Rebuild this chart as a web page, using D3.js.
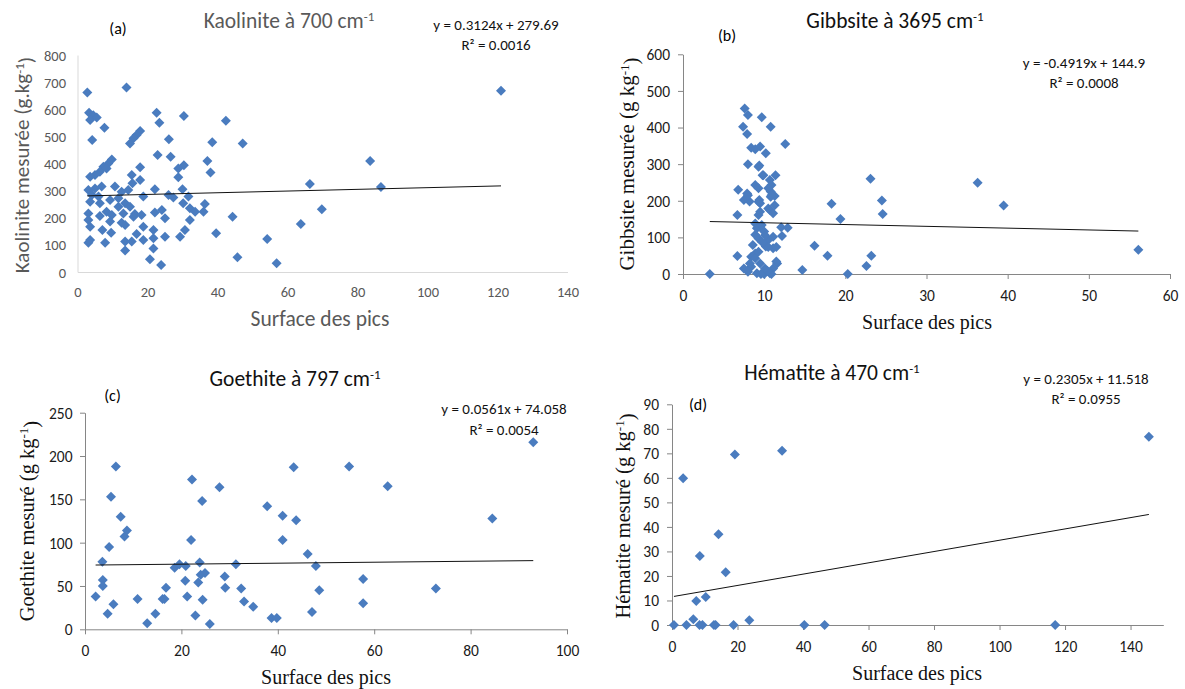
<!DOCTYPE html>
<html><head><meta charset="utf-8">
<script src="https://cdn.jsdelivr.net/npm/d3@7"></script>
<style>body{margin:0;background:#fff}svg{display:block}</style>
</head><body>
<svg id="c" width="1185" height="689"></svg>
<script>
// ---------- DATA ----------
// (a) Kaolinite
const kaolX = [2.8,14.0,3.3,4.5,3.6,5.5,7.7,4.2,22.6,23.4,17.9,16.9,16.0,15.0,26.1,22.9,26.6,9.8,8.8,7.4,6.4,5.0,3.6,8.3,17.9,15.5,17.9,15.7,3.1,5.0,6.9,4.1,6.0,10.7,12.6,14.5,18.8,22.1,3.6,6.4,9.3,11.7,13.6,8.3,11.7,15.0,3.1,6.4,9.8,13.1,16.4,18.3,22.1,24.1,3.1,3.6,9.3,12.6,16.0,25.0,7.1,9.6,13.6,18.8,21.7,3.6,3.1,7.9,13.6,15.5,16.9,18.8,21.7,25.0,13.6,21.7,20.7,23.9,26.0,
  30.4,42.4,38.5,47.2,30.4,28.8,37.1,38.0,28.8,30.0,27.4,31.7,30.2,32.1,33.6,36.0,36.4,32.1,44.3,30.7,29.3,39.6,54.2,45.7,
  121,83.6,66.4,86.7,69.8,63.8,56.9];
const kaolY = [662,680,587,578,560,570,532,487,587,550,520,505,493,474,489,431,425,415,400,388,370,358,351,382,386,358,339,327,302,308,315,284,278,315,296,302,278,305,259,253,265,272,253,222,241,241,216,206,210,216,214,210,219,229,192,167,186,182,204,198,155,145,173,167,155,118,108,108,112,112,140,118,124,130,79,87,47,26,284,
  575,558,478,474,394,382,409,367,349,305,275,278,253,235,222,222,251,192,204,155,130,143,122,54,
  668,409,324,313,231,177,32];
// (b) Gibbsite
const gibbX = [3.3,7.6,8.0,7.4,7.9,9.7,10.8,12.6,8.4,9.5,8.9,10.2,8.0,9.4,6.8,7.9,7.5,8.2,8.9,9.3,9.4,9.5,9.8,10.7,11.4,10.9,10.8,11.3,10.8,6.7,9.3,9.5,10.7,11.1,11.3,8.9,9.5,10.0,8.9,9.3,10.5,10.2,11.1,12.1,12.9,12.2,8.6,6.7,8.4,8.9,7.5,8.4,9.5,9.1,10.0,10.7,11.1,11.6,10.9,14.7,16.2,17.8,18.3,19.4,20.3,22.6,23.2,23.1,24.5,24.6,36.3,39.5,56.1,
  8.25,8.9,8.0,9.6,9.9,10.4,11.5,10.1,9.3,10.5,9.7,10.1,9.1,9.7,11.1,11.5,8.0,9.3,9.9,10.5,10.9,10.5,9.3];
const gibbY = [0,452,434,402,382,428,402,355,345,348,341,330,300,296,230,220,202,198,243,234,202,193,270,257,270,243,211,213,225,161,161,170,175,166,188,138,129,116,107,97,93,75,70,128,126,104,79,49,47,56,15,20,29,2,0,2,15,29,0,11,77,50,192,150,0,22,50,260,201,164,249,187,66,
  29,43,6,0,4,8,34,15,61,74,88,106,125,134,102,74,215,197,270,234,215,179,293];
// (c) Goethite
const goetX = [2.2,3.6,3.7,3.7,4.7,5.0,5.4,5.9,6.4,7.4,8.2,8.7,10.9,12.9,14.6,16.1,16.5,16.8,18.6,19.6,20.9,20.8,21.2,22.0,22.2,22.9,23.8,23.5,24.0,24.9,24.3,24.4,25.9,27.9,29.0,29.1,31.3,32.4,33.0,34.9,37.8,38.7,39.8,41.0,41.0,43.3,43.8,46.2,47.9,57.7,48.6,72.8,57.7,47.1,84.5,93.0,54.8,62.8];
const goetY = [38,78,57,50,18,95,153,29,188,130,107,114,35,7,18,35,35,48,71,75,73,56,38,103,173,16,77,54,63,65,148,34,6,164,61,48,75,47,32,26,142,13,13,131,103,187,126,87,73,58,45,47,30,20,128,216,188,165];
// (d) Hématite
const hemaX = [0.6,4.4,3.4,6.5,7.4,8.5,8.4,9.3,10.3,12.8,13.3,14.2,16.4,18.8,19.2,23.6,33.6,40.4,46.6,117,145.6];
const hemaY = [0,0,59.8,2.3,9.8,28.1,0,0,11.4,0,0,37,21.5,0,69.5,1.9,71.1,0,0,0,76.8];

// tick values
const ticksXa = [0,20,40,60,80,100,120,140];
const ticksYa = [0,100,200,300,400,500,600,700,800];
const ticksXb = [0,10,20,30,40,50,60];
const ticksYb = [0,100,200,300,400,500,600];
const ticksXc = [0,20,40,60,80,100];
const ticksYc = [0,50,100,150,200,250];
const ticksXd = [0,20,40,60,80,100,120,140];
const ticksYd = [0,10,20,30,40,50,60,70,80,90];

// trend lines [slope, intercept]
const trendA = [0.3124, 279.69];
const trendB = [-0.4919, 144.9];
const trendC = [0.0561, 74.058];
const trendD = [0.2305, 11.518];

const eqTexts = ["y = 0.3124x + 279.69","y = -0.4919x + 144.9","y = 0.0561x + 74.058","y = 0.2305x + 11.518"];
const r2Texts = ["R² = 0.0016","R² = 0.0008","R² = 0.0054","R² = 0.0955"];
const titleTexts = ["Kaolinite à 700 cm","Gibbsite à 3695 cm","Goethite à 797 cm","Hématite à 470 cm"];
const panelLabels = ["(a)","(b)","(c)","(d)"];
const yTitleTexts = ["Kaolinite mesurée (g.kg","Gibbsite mesurée (g kg","Goethite mesuré (g kg","Hématite mesuré (g kg"];
const xTitleText = "Surface des pics";

// ---------- DRAW ----------
const SANS = "Carlito, Lato, 'Open Sans', sans-serif";
const SERIF = "'Liberation Serif', 'Times New Roman', serif";
const BLUE = "#4a7cbf";
const svg = d3.select('#c');

const panels = [
  {xs:kaolX, ys:kaolY, xDom:[0,140], yDom:[0,800], xT:ticksXa, yT:ticksYa, tr:trendA, i:0,
   left:77.5, right:567.5, bottom:272, top:55, tick:0, axisColor:'#d9d9d9', tickColor:'#595959', tickFont:14.5,
   xLab:20, yLab:11.5, titleX:289, titleY:20, titleColor:'#595959', labX:118, labY:28,
   eqX:496, eqY:25, r2Y:45, yTitleX:22, yTitleY:165, yTitleFont:SANS, yTitleColor:'#595959', yTitleSize:21,
   xTitleX:320, xTitleY:318, xTitleFont:SANS, xTitleColor:'#595959', xTitleSize:21.5},
  {xs:gibbX, ys:gibbY, xDom:[0,60], yDom:[0,600], xT:ticksXb, yT:ticksYb, tr:trendB, i:1,
   left:683, right:1170, bottom:274, top:54.3, tick:5, axisColor:'#868686', tickColor:'#1a1a1a', tickFont:15.5,
   xLab:22, yLab:13, titleX:895, titleY:20, titleColor:'#111', labX:727, labY:35,
   eqX:1084, eqY:63, r2Y:83, yTitleX:627, yTitleY:164, yTitleFont:SERIF, yTitleColor:'#111', yTitleSize:21,
   xTitleX:927, xTitleY:322, xTitleFont:SERIF, xTitleColor:'#111', xTitleSize:20},
  {xs:goetX, ys:goetY, xDom:[0,100], yDom:[0,250], xT:ticksXc, yT:ticksYc, tr:trendC, i:2,
   left:85, right:567, bottom:629.3, top:412.7, tick:5, axisColor:'#868686', tickColor:'#1a1a1a', tickFont:15.5,
   xLab:21, yLab:12.5, titleX:295, titleY:378, titleColor:'#111', labX:112.5, labY:395,
   eqX:504, eqY:409, r2Y:430, yTitleX:27, yTitleY:521, yTitleFont:SERIF, yTitleColor:'#111', yTitleSize:20.5,
   xTitleX:326, xTitleY:677, xTitleFont:SERIF, xTitleColor:'#111', xTitleSize:20},
  {xs:hemaX, ys:hemaY, xDom:[0,150], yDom:[0,90], xT:ticksXd, yT:ticksYd, tr:trendD, i:3,
   left:672, right:1163.3, bottom:625, top:404.3, tick:5, axisColor:'#868686', tickColor:'#1a1a1a', tickFont:15.5,
   xLab:21.7, yLab:13, titleX:832, titleY:372, titleColor:'#111', labX:698, labY:404,
   eqX:1086, eqY:379, r2Y:399, yTitleX:623, yTitleY:516, yTitleFont:SERIF, yTitleColor:'#111', yTitleSize:20.5,
   xTitleX:917, xTitleY:673, xTitleFont:SERIF, xTitleColor:'#111', xTitleSize:20}
];

const diamond = "M0,-5L5,0L0,5L-5,0Z";

panels.forEach(p => {
  const g = svg.append('g');
  const x = d3.scaleLinear().domain(p.xDom).range([p.left, p.right]);
  const y = d3.scaleLinear().domain(p.yDom).range([p.bottom, p.top]);

  const xa = g.append('g').attr('transform', `translate(0,${p.bottom})`)
    .call(d3.axisBottom(x).tickValues(p.xT).tickSizeInner(p.tick).tickSizeOuter(0).tickFormat(d3.format('d')));
  const ya = g.append('g').attr('transform', `translate(${p.left},0)`)
    .call(d3.axisLeft(y).tickValues(p.yT).tickSizeInner(p.tick).tickSizeOuter(0).tickFormat(d3.format('d')));
  [xa, ya].forEach(a => {
    a.select('.domain').attr('stroke', p.axisColor).attr('stroke-width', 1);
    a.selectAll('.tick line').attr('stroke', p.axisColor);
    a.selectAll('text').attr('fill', p.tickColor).attr('font-family', SANS).attr('font-size', p.tickFont);
  });
  xa.selectAll('text').attr('y', p.xLab).attr('dy', '0.35em');
  ya.selectAll('text').attr('x', -p.yLab).attr('dy', '0.35em');

  // points
  const pts = d3.zip(p.xs, p.ys);
  g.append('g').selectAll('path').data(pts).join('path')
    .attr('d', diamond)
    .attr('transform', d => `translate(${x(d[0])},${y(d[1])})`)
    .attr('fill', BLUE);

  // trend line
  const ext = d3.extent(p.xs);
  const f = v => p.tr[0] * v + p.tr[1];
  g.append('line')
    .attr('x1', x(ext[0])).attr('y1', y(f(ext[0])))
    .attr('x2', x(ext[1])).attr('y2', y(f(ext[1])))
    .attr('stroke', '#111').attr('stroke-width', 1);

  // title
  const t = g.append('text').attr('x', p.titleX).attr('y', p.titleY).attr('dy', '0.35em')
    .attr('text-anchor', 'middle').attr('font-family', SANS).attr('font-size', 21.5).attr('fill', p.titleColor);
  t.append('tspan').text(titleTexts[p.i]);
  t.append('tspan').attr('dy', '-0.5em').attr('font-size', 13).text('-1');

  // panel label
  g.append('text').attr('x', p.labX).attr('y', p.labY).attr('dy', '0.35em').attr('text-anchor', 'middle')
    .attr('font-family', SANS).attr('font-size', 16).attr('fill', '#000').text(panelLabels[p.i]);

  // equation
  g.append('text').attr('x', p.eqX).attr('y', p.eqY).attr('dy', '0.35em').attr('text-anchor', 'middle')
    .attr('font-family', SANS).attr('font-size', 15).attr('fill', '#111').text(eqTexts[p.i]);
  g.append('text').attr('x', p.eqX).attr('y', p.r2Y).attr('dy', '0.35em').attr('text-anchor', 'middle')
    .attr('font-family', SANS).attr('font-size', 15).attr('fill', '#111').text(r2Texts[p.i]);

  // y title
  const yt = g.append('text').attr('transform', `translate(${p.yTitleX},${p.yTitleY}) rotate(-90)`)
    .attr('dy', '0.35em').attr('text-anchor', 'middle').attr('font-family', p.yTitleFont)
    .attr('font-size', p.yTitleSize).attr('fill', p.yTitleColor);
  yt.append('tspan').text(yTitleTexts[p.i]);
  yt.append('tspan').attr('dy', '-0.45em').attr('font-size', 13).text('-1');
  yt.append('tspan').attr('dy', '0.45em').text(')');

  // x title
  g.append('text').attr('x', p.xTitleX).attr('y', p.xTitleY).attr('dy', '0.35em').attr('text-anchor', 'middle')
    .attr('font-family', p.xTitleFont).attr('font-size', p.xTitleSize).attr('fill', p.xTitleColor).text(xTitleText);
});
</script>
</body></html>
